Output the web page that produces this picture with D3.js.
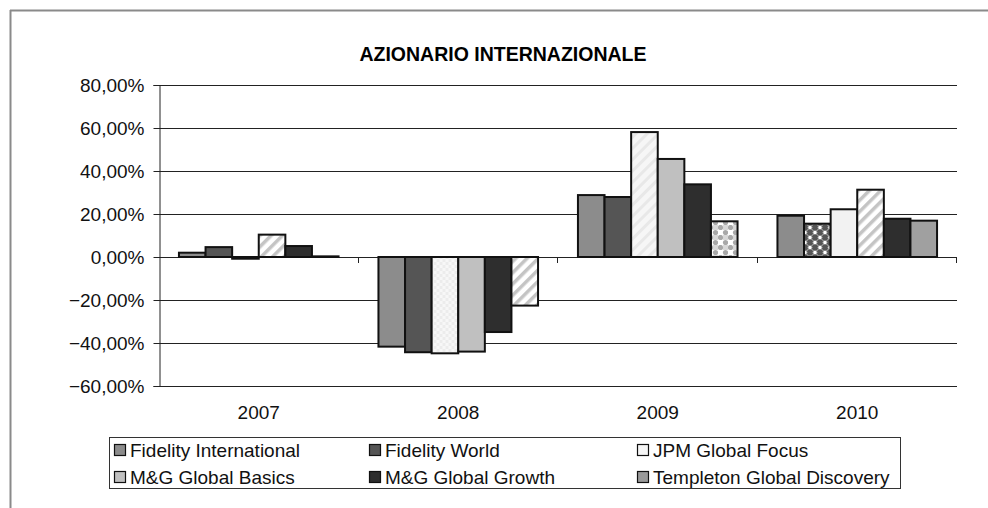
<!DOCTYPE html>
<html>
<head>
<meta charset="utf-8">
<script src="https://cdn.jsdelivr.net/npm/d3@7"></script>
<style>
  html, body { margin: 0; background: #fff; overflow: hidden; }
  svg { display: block; overflow: hidden; font-family: "Liberation Sans", Arial, sans-serif; }
</style>
</head>
<body>
<svg id="chart" width="988" height="508"></svg>
<script>
// data
const years = ["2007", "2008", "2009", "2010"];
const funds = ["Fidelity International", "Fidelity World", "JPM Global Focus",
               "M&G Global Basics", "M&G Global Growth", "Templeton Global Discovery"];
const fidelityInternational = [0.020, -0.417, 0.288, 0.192];
const fidelityWorld         = [0.046, -0.443, 0.279, 0.155];
const jpmGlobalFocus        = [-0.008, -0.448, 0.581, 0.222];
const mgGlobalBasics        = [0.104, -0.440, 0.456, 0.313];
const mgGlobalGrowth        = [0.051, -0.349, 0.338, 0.178];
const templetonDiscovery    = [0.003, -0.226, 0.166, 0.169];
const yTicks = [-0.6, -0.4, -0.2, 0, 0.2, 0.4, 0.6, 0.8];

const seriesValues = [fidelityInternational, fidelityWorld, jpmGlobalFocus,
                      mgGlobalBasics, mgGlobalGrowth, templetonDiscovery];

// colours (legend) and the per-point fills Excel used
const fundColors = ["#8c8c8c", "#555555", "#f6f6f6", "#c0c0c0", "#2e2e2e", "#999999"];
const pointFills = [
  [null, null, "#ffffff", "url(#hatch)", null, "#333333"],
  [null, null, "url(#faintCheck)", null, null, "url(#hatch)"],
  [null, null, "url(#faintHatch)", null, null, "url(#dots)"],
  [null, "url(#darkDots)", "#f2f2f2", "url(#hatch)", null, "#a0a0a0"]
];

const svg = d3.select("#chart");
const margin = {top: 85, left: 159, right: 31, bottom: 122};
const width = 988 - margin.left - margin.right;

const locale = d3.formatLocale({decimal: ",", thousands: ".", grouping: [3], currency: ["€", ""]});
const fmt = locale.format(".2%");

// patterns
const defs = svg.append("defs");
function hatch(id, bg, fg, w) {
  const p = defs.append("pattern").attr("id", id).attr("patternUnits", "userSpaceOnUse")
    .attr("width", 8).attr("height", 8).attr("patternTransform", "rotate(45)");
  p.append("rect").attr("width", 8).attr("height", 8).attr("fill", bg);
  p.append("rect").attr("width", w).attr("height", 8).attr("fill", fg);
}
hatch("hatch", "#ffffff", "#c4c4c4", 3.5);
hatch("faintHatch", "#f6f6f6", "#e8e8e8", 3);

let pc = defs.append("pattern").attr("id", "faintCheck").attr("patternUnits", "userSpaceOnUse")
  .attr("width", 6).attr("height", 6);
pc.append("rect").attr("width", 6).attr("height", 6).attr("fill", "#f7f7f7");
pc.append("rect").attr("width", 3).attr("height", 3).attr("fill", "#ececec");
pc.append("rect").attr("x", 3).attr("y", 3).attr("width", 3).attr("height", 3).attr("fill", "#ececec");

let pd = defs.append("pattern").attr("id", "dots").attr("patternUnits", "userSpaceOnUse")
  .attr("width", 10).attr("height", 10);
pd.append("rect").attr("width", 10).attr("height", 10).attr("fill", "#ffffff");
pd.append("rect").attr("x", 5).attr("y", 0).attr("width", 5).attr("height", 5).attr("fill", "#d8d8d8");
[[2.5, 2.5], [7.5, 7.5]].forEach(c => {
  pd.append("circle").attr("cx", c[0]).attr("cy", c[1]).attr("r", 2.6).attr("fill", "#a8a8a8");
});

let pk = defs.append("pattern").attr("id", "darkDots").attr("patternUnits", "userSpaceOnUse")
  .attr("width", 10).attr("height", 10);
pk.append("rect").attr("width", 10).attr("height", 10).attr("fill", "#ffffff");
pk.append("rect").attr("x", 5).attr("y", 0).attr("width", 5).attr("height", 5).attr("fill", "#555555");
pk.append("rect").attr("x", 0).attr("y", 5).attr("width", 5).attr("height", 5).attr("fill", "#555555");
[[2.5, 2.5], [7.5, 7.5]].forEach(c => {
  pk.append("circle").attr("cx", c[0]).attr("cy", c[1]).attr("r", 2.4).attr("fill", "#ffffff")
    .attr("stroke", "#555555").attr("stroke-width", 1);
});

// outer frame: only the left and top edges are inside the window
svg.append("line").attr("x1", 10.5).attr("x2", 10.5).attr("y1", 10).attr("y2", 508)
  .attr("stroke", "#8a8a8a").attr("stroke-width", 2);
svg.append("line").attr("x1", 10).attr("x2", 988).attr("y1", 10.5).attr("y2", 10.5)
  .attr("stroke", "#8a8a8a").attr("stroke-width", 2);

svg.append("text").attr("x", 503).attr("y", 61).attr("text-anchor", "middle")
  .attr("font-size", "19.5px").attr("font-weight", "bold").text("AZIONARIO INTERNAZIONALE");

const plot = svg.append("g").attr("transform", "translate(" + margin.left + "," + margin.top + ")");

const y = d3.scaleLinear().domain([-0.6, 0.8]).range([301, 0]);
const x0 = d3.scaleBand().domain(years).range([0, width]);
const x1 = d3.scaleBand().domain(d3.range(funds.length)).range([0, x0.bandwidth()])
  .paddingInner(0).paddingOuter(0.75);

// grid lines
plot.selectAll(".grid").data(yTicks).enter().append("line")
  .attr("class", "grid")
  .attr("x1", 0).attr("x2", width)
  .attr("y1", d => Math.round(y(d)) + 0.5).attr("y2", d => Math.round(y(d)) + 0.5)
  .attr("stroke", "#222").attr("stroke-width", 1);

// y axis
const yAxis = plot.append("g").attr("transform", "translate(0.5,0)")
  .call(d3.axisLeft(y).tickValues(yTicks).tickSize(6).tickPadding(9).tickFormat(fmt));
yAxis.select(".domain").attr("stroke", "#222");
yAxis.selectAll(".tick line").attr("stroke", "#222");
yAxis.selectAll(".tick text").attr("font-size", "19px").attr("fill", "#111")
  .attr("font-family", "Liberation Sans, Arial, sans-serif");

// bars
const groups = plot.selectAll(".year").data(years).enter().append("g")
  .attr("class", "year")
  .attr("transform", d => "translate(" + x0(d) + ",0)");

groups.selectAll("rect").data((d, yi) => funds.map((f, fi) => ({yi: yi, fi: fi, v: seriesValues[fi][yi]})))
  .enter().append("rect")
  .attr("x", d => x1(d.fi))
  .attr("width", x1.bandwidth())
  .attr("y", d => Math.min(y(d.v), y(0)))
  .attr("height", d => Math.abs(y(d.v) - y(0)))
  .attr("fill", d => pointFills[d.yi][d.fi] || fundColors[d.fi])
  .attr("stroke", "#111").attr("stroke-width", 2);

// category ticks on the zero line
plot.selectAll(".xtick").data(years).enter().append("line")
  .attr("x1", d => Math.round(x0(d) + x0.bandwidth()) - 0.5)
  .attr("x2", d => Math.round(x0(d) + x0.bandwidth()) - 0.5)
  .attr("y1", y(0)).attr("y2", y(0) + 6)
  .attr("stroke", "#222");

// category labels
plot.selectAll(".xlabel").data(years).enter().append("text")
  .attr("x", d => x0(d) + x0.bandwidth() / 2)
  .attr("y", 334)
  .attr("text-anchor", "middle").attr("font-size", "19px").attr("fill", "#111")
  .text(d => d);

// legend
const legend = svg.append("g");
legend.append("rect").attr("x", 109.5).attr("y", 437.5).attr("width", 791).attr("height", 51)
  .attr("fill", "#fff").attr("stroke", "#333");
const legendCols = [114, 369, 637];
const items = legend.selectAll(".legend").data(funds).enter().append("g")
  .attr("class", "legend")
  .attr("transform", (d, i) => "translate(" + legendCols[i % 3] + "," + (444 + 27 * Math.floor(i / 3)) + ")");
items.append("rect").attr("x", 0.5).attr("y", 0.5).attr("width", 11).attr("height", 11)
  .attr("fill", (d, i) => fundColors[i]).attr("stroke", "#111").attr("stroke-width", 1.2);
items.append("text").attr("x", 16).attr("y", 12.5)
  .attr("font-size", "19px").attr("fill", "#111").text(d => d);
</script>
</body>
</html>
